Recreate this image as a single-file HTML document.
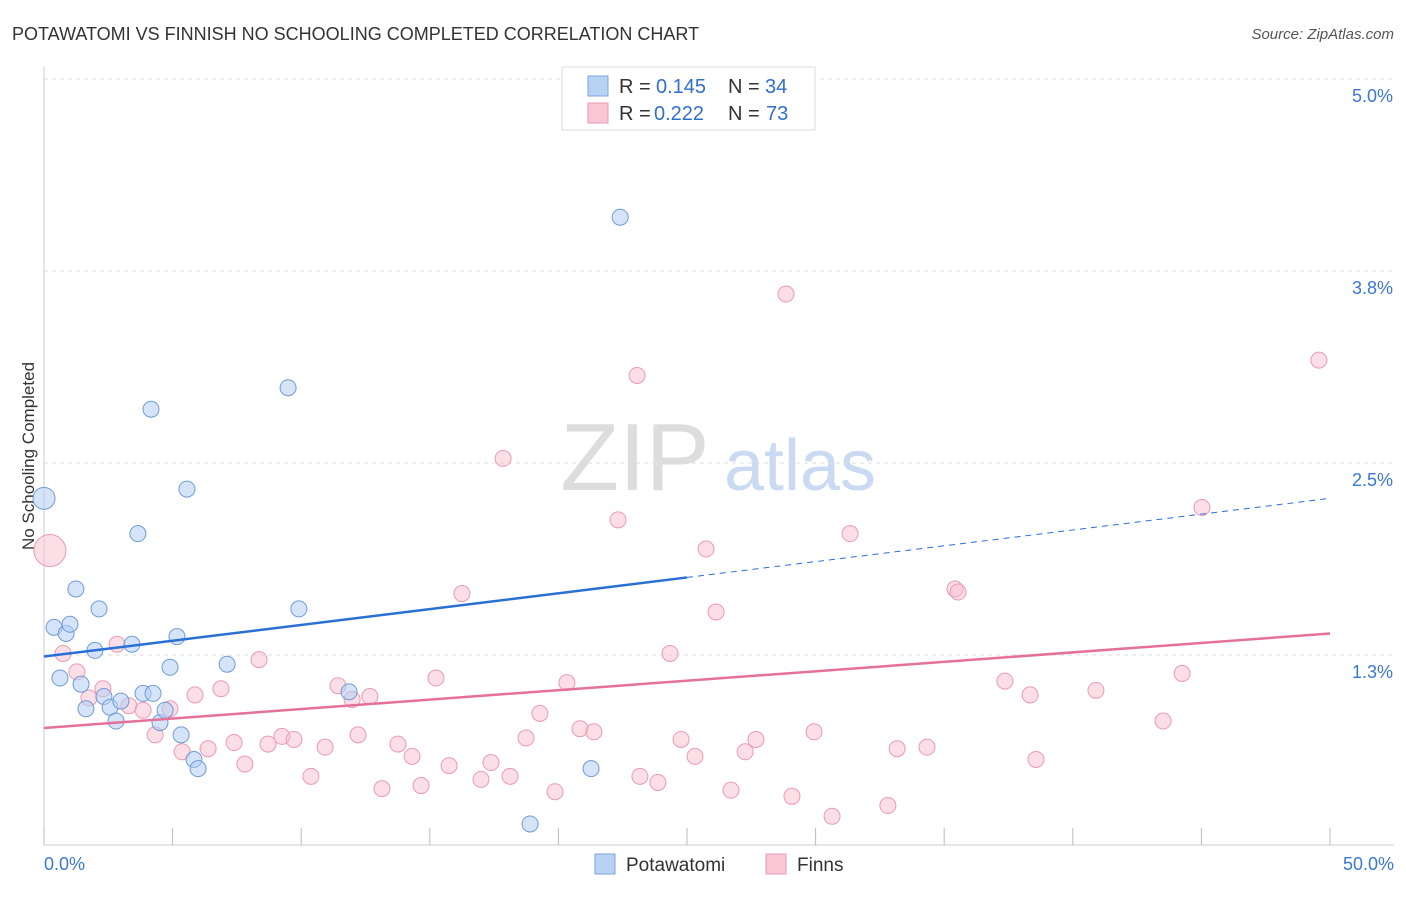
<!DOCTYPE html>
<html><head><meta charset="utf-8"><style>
body{margin:0;background:#fff;font-family:"Liberation Sans",sans-serif;}
svg text{font-family:"Liberation Sans",sans-serif;}
</style></head><body>
<svg id="chart" width="1406" height="892">
<text x="12" y="40" font-size="18" fill="#333">POTAWATOMI VS FINNISH NO SCHOOLING COMPLETED CORRELATION CHART</text>
<text x="1394" y="39" font-size="15" fill="#555" font-style="italic" text-anchor="end">Source: ZipAtlas.com</text>
<text x="34" y="456" font-size="17" fill="#333" transform="rotate(-90 34 456)" text-anchor="middle">No Schooling Completed</text>
<g><text x="635" y="490" font-size="96" fill="#ddd" font-family="Liberation Serif" text-anchor="middle">ZIP</text><text x="800" y="490" font-size="72" fill="#c9daf2" text-anchor="middle">atlas</text></g>
<g id="grid"></g><g id="axes"></g><g id="marks"></g>
<g>
<rect x="562" y="67" width="253" height="63" fill="#fff" stroke="#ddd"/>
<rect x="588" y="76" width="20" height="20" fill="#b8d2f4" stroke="#7ea6e0"/>
<rect x="588" y="103" width="20" height="20" fill="#f9c6d5" stroke="#eb9ab3"/>
<text x="619" y="93" font-size="20" fill="#333">R = </text><text x="656" y="93" font-size="20" fill="#2f6fd0">0.145</text>
<text x="728" y="93" font-size="20" fill="#333">N = </text><text x="765" y="93" font-size="20" fill="#2f6fd0">34</text>
<text x="619" y="120" font-size="20" fill="#333">R = </text><text x="654" y="120" font-size="20" fill="#2f6fd0">0.222</text>
<text x="728" y="120" font-size="20" fill="#333">N = </text><text x="766" y="120" font-size="20" fill="#2f6fd0">73</text>
</g>
<g>
<rect x="595" y="854" width="20" height="20" fill="#b8d2f4" stroke="#7ea6e0"/>
<text x="626" y="871" font-size="19" fill="#333">Potawatomi</text>
<rect x="766" y="854" width="20" height="20" fill="#f9c6d5" stroke="#eb9ab3"/>
<text x="797" y="871" font-size="19" fill="#333">Finns</text>
</g>
</svg>
<script>
const blueX=[0,0.39,0.86,1.01,0.62,1.24,2.14,1.98,1.44,1.63,2.33,2.57,2.80,2.99,3.42,3.85,4.24,4.16,3.65,5.56,5.17,4.90,4.51,4.71,5.33,5.83,5.99,7.12,9.49,9.91,11.86,21.27,22.40,18.90];
const blueY=[2.27,1.43,1.39,1.45,1.10,1.68,1.55,1.28,1.06,0.90,0.98,0.91,0.82,0.95,1.32,1.00,1.00,2.85,2.04,2.33,1.37,1.17,0.81,0.89,0.73,0.57,0.51,1.19,2.99,1.55,1.01,0.51,4.10,0.15];
const pinkX=[0.23,0.74,1.28,1.75,2.29,2.84,3.30,3.85,4.32,4.90,5.37,5.87,6.38,6.88,7.39,7.81,8.36,8.71,9.25,9.72,10.38,10.93,11.43,11.98,12.21,12.67,13.14,13.76,14.31,14.66,15.24,15.75,16.25,16.99,17.38,17.85,18.12,18.74,19.28,19.87,20.33,20.84,21.38,22.32,23.06,23.17,23.87,24.34,24.77,25.31,25.74,26.13,26.71,27.26,27.68,28.85,29.08,29.94,30.64,31.34,32.81,33.17,34.33,35.42,35.54,37.36,38.34,38.57,40.90,43.51,44.25,45.02,49.57];
const pinkY=[1.93,1.26,1.14,0.97,1.03,1.32,0.92,0.89,0.73,0.90,0.62,0.99,0.64,1.03,0.68,0.54,1.22,0.67,0.72,0.70,0.46,0.65,1.05,0.96,0.73,0.98,0.38,0.67,0.59,0.40,1.10,0.53,1.65,0.44,0.55,2.53,0.46,0.71,0.87,0.36,1.07,0.77,0.75,2.13,3.07,0.46,0.42,1.26,0.70,0.59,1.94,1.53,0.37,0.62,0.70,3.60,0.33,0.75,0.20,2.04,0.27,0.64,0.65,1.68,1.66,1.08,0.99,0.57,1.02,0.82,1.13,2.21,3.17];
const yTicks=[1.25,2.5,3.75,5.0];
const yTickLabels=["1.3%","2.5%","3.8%","5.0%"];
const blueTrend=[1.24,2.27];
const pinkTrend=[0.775,1.39];
const NS='http://www.w3.org/2000/svg';
const sx=v=>44+v*25.72, sy=v=>847-v*153.6;
function mk(t,a,p){const e=document.createElementNS(NS,t);for(const k in a)e.setAttribute(k,a[k]);p.appendChild(e);return e;}
const grid=document.getElementById('grid'),axes=document.getElementById('axes'),marks=document.getElementById('marks');
yTicks.forEach((v,i)=>{
 const l=mk('line',{x1:44,x2:1394,y1:sy(v),y2:sy(v),stroke:'#ddd','stroke-dasharray':'4,4'},grid);
 
 
 const t=mk('text',{x:1393,y:sy(v)+23,'font-size':18,fill:'#3a78d4','text-anchor':'end'},axes);t.textContent=yTickLabels[i];
 
 
});
mk('line',{x1:44,x2:1394,y1:845,y2:845,stroke:'#ccc'},axes);
mk('line',{x1:44,x2:44,y1:67,y2:845,stroke:'#ccc'},axes);
for(let i=0;i<=10;i++){const t=mk('line',{x1:sx(i*5),x2:sx(i*5),y1:828,y2:845,stroke:'#bbb'},axes);
 
 }
const x0=mk('text',{x:44,y:870,'font-size':18,fill:'#3a78d4'},axes);x0.textContent='0.0%';


const x1=mk('text',{x:1394,y:870,'font-size':18,fill:'#3a78d4','text-anchor':'end'},axes);x1.textContent='50.0%';


pinkX.forEach((x,i)=>{const c=mk('circle',{cx:sx(x),cy:sy(pinkY[i]),r:i===0?16:8,fill:'rgba(249,190,208,0.5)',stroke:'#eb9ab3','stroke-width':1},marks);
 
 });
blueX.forEach((x,i)=>{const c=mk('circle',{cx:sx(x),cy:sy(blueY[i]),r:i===0?11:8,fill:'rgba(178,206,244,0.55)',stroke:'#6f9bd8','stroke-width':1},marks);
 
 });
const bAt=x=>blueTrend[0]+(blueTrend[1]-blueTrend[0])*x/50;
const bl=mk('line',{x1:sx(0),y1:sy(bAt(0)),x2:sx(25),y2:sy(bAt(25)),stroke:'#2a6fd6','stroke-width':2.5},marks);


const bd=mk('line',{x1:sx(25),y1:sy(bAt(25)),x2:sx(50),y2:sy(bAt(50)),stroke:'#2a6fd6','stroke-width':1,'stroke-dasharray':'6,5'},marks);


const pl=mk('line',{x1:sx(0),y1:sy(pinkTrend[0]),x2:sx(50),y2:sy(pinkTrend[1]),stroke:'#e5709a','stroke-width':2.5},marks);


</script>
</body></html>
